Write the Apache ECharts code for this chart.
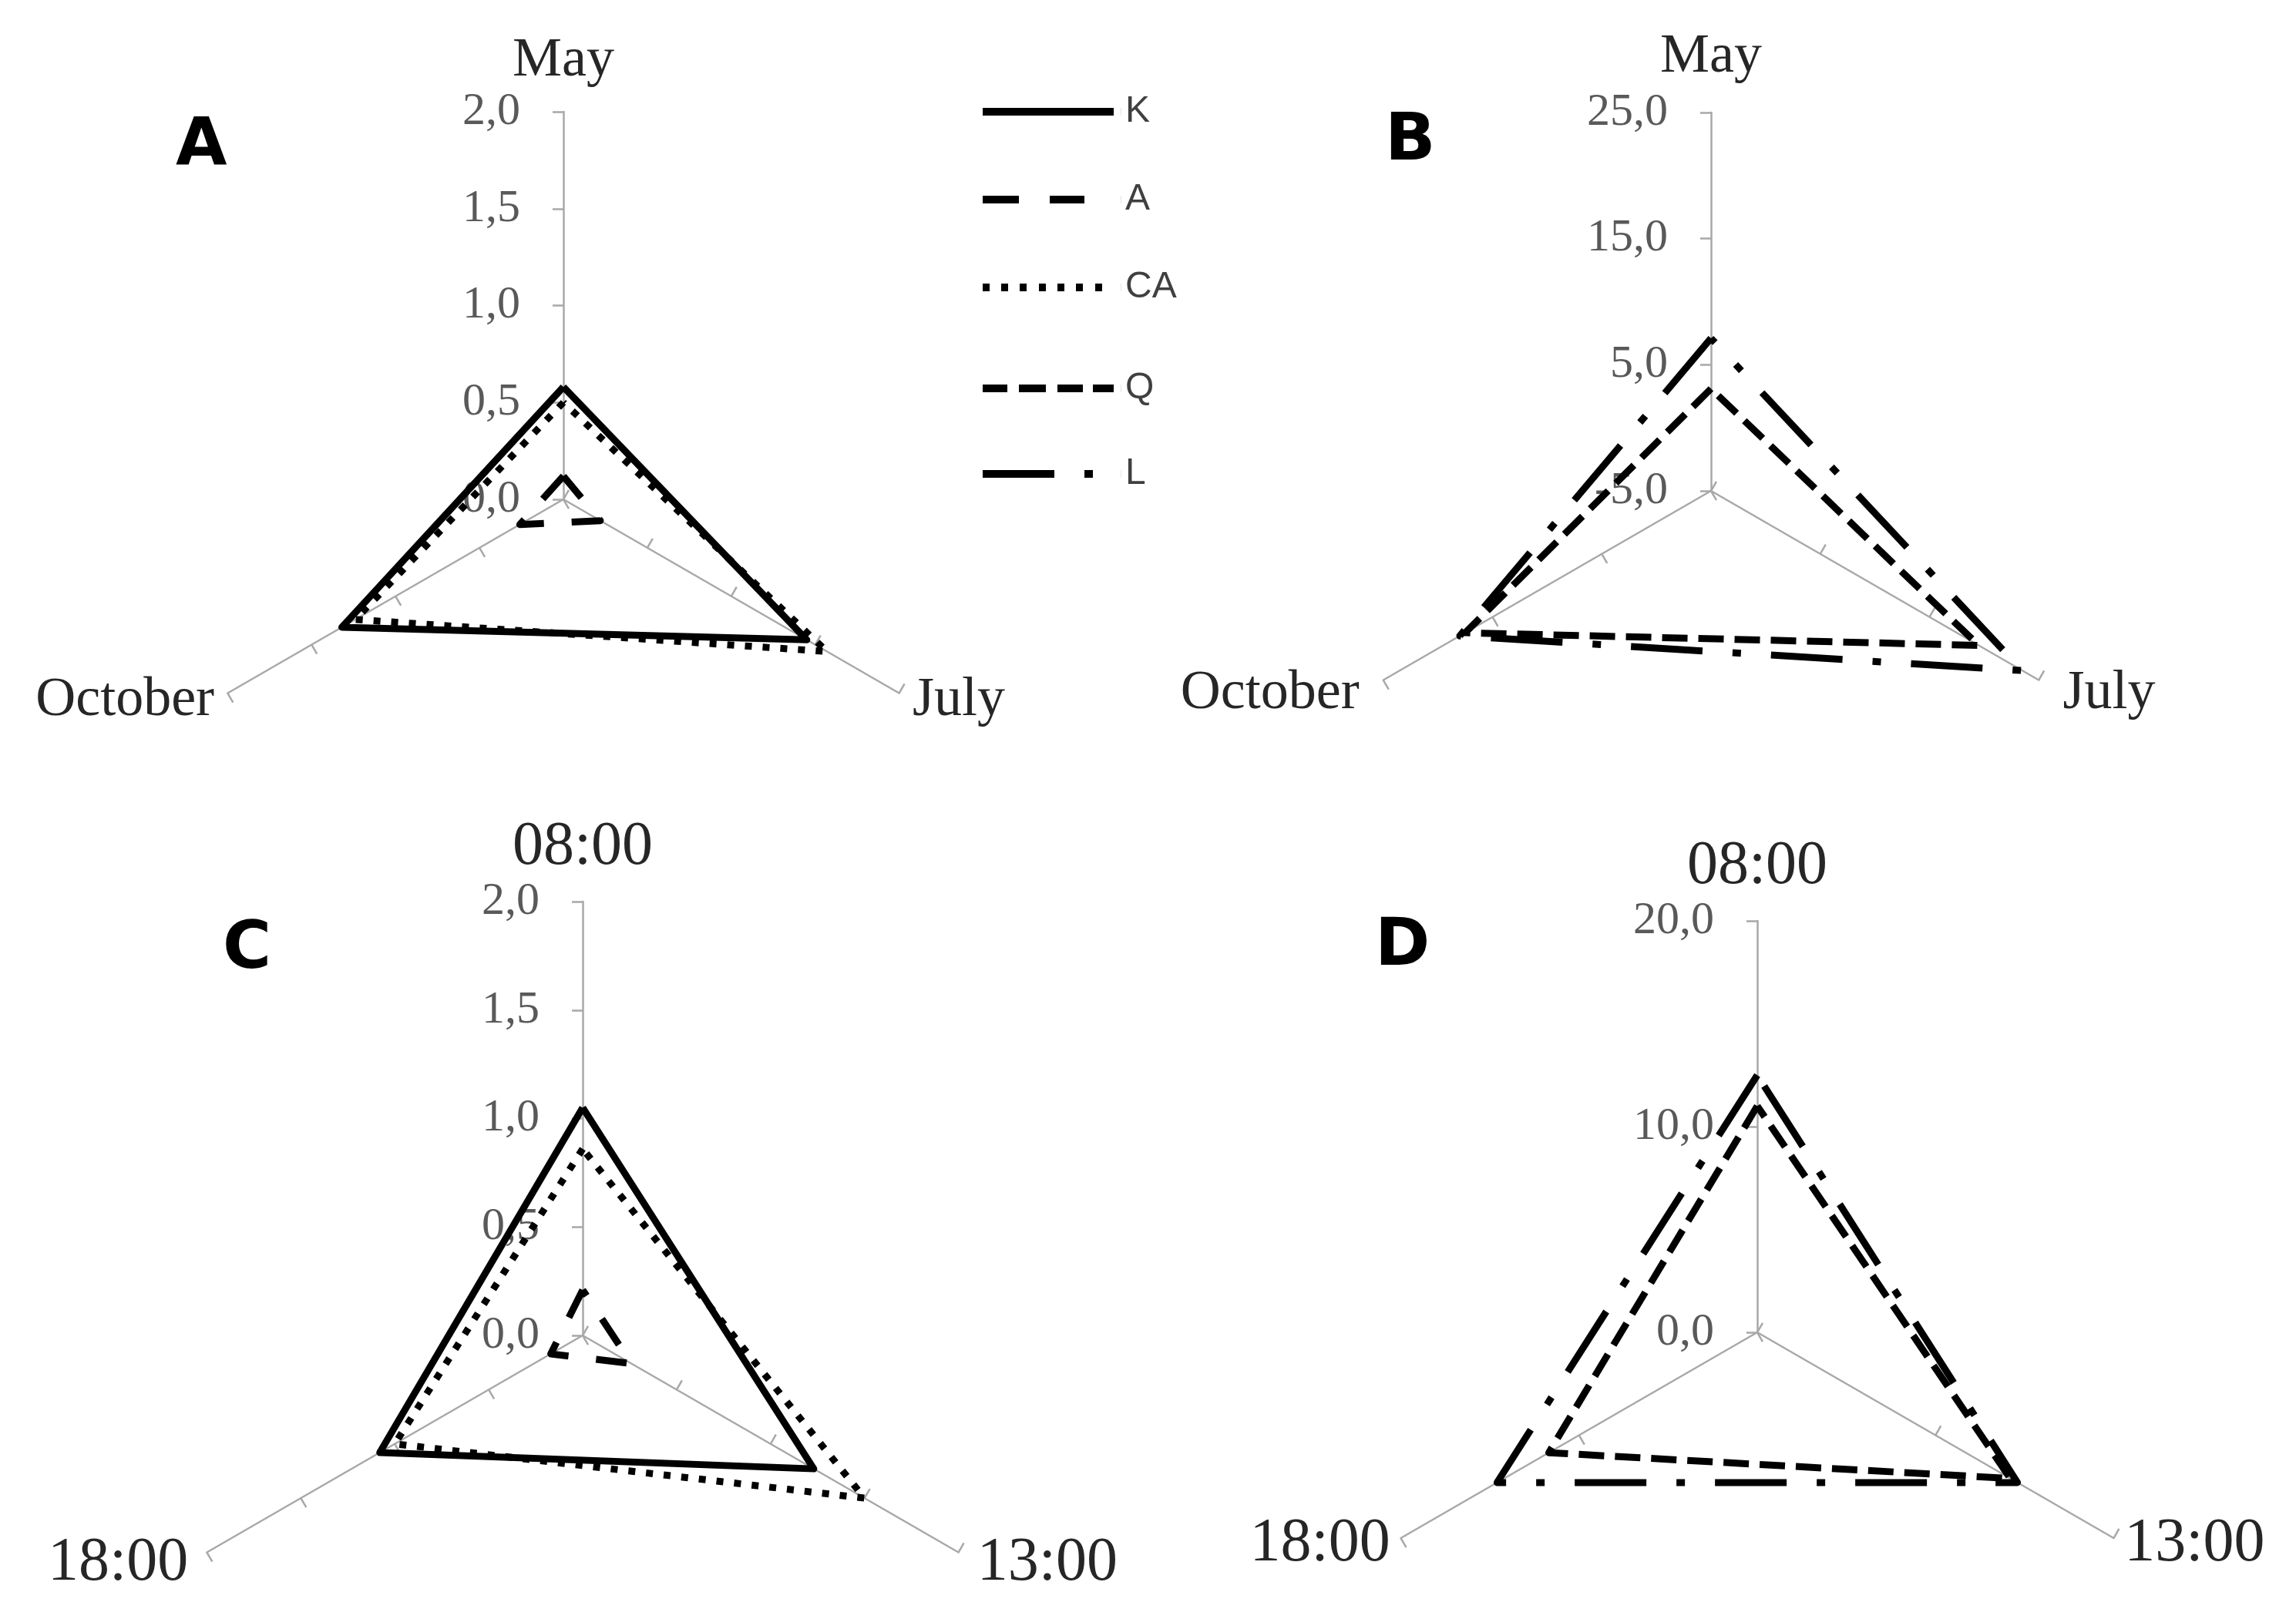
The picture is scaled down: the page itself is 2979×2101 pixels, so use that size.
<!DOCTYPE html>
<html>
<head>
<meta charset="utf-8">
<title>Radar A-D</title>
<script src="https://cdn.jsdelivr.net/npm/echarts@6/dist/echarts.min.js"></script>
<style>
html, body { margin: 0; padding: 0; background: #fff; }
#chart { width: 2979px; height: 2101px; }
</style>
</head>
<body>
<div id="chart"></div>
<script>
// axes, read clockwise from the top
const monthAxes = ['May', 'July', 'October'];
const hourAxes = ['08:00', '13:00', '18:00'];

// values in the same order as the axes
const kMonth = [0.58, 1.45, 1.32];
const aMonth = [0.12, 0.22, 0.26];
const caMonth = [0.50, 1.57, 1.24];
const qMonth = [3.1, 19.5, 17.5];
const lMonth = [7.1, 23.5, 18.0];

const kHour = [1.05, 1.23, 1.08];
const aHour = [0.21, 0.26, 0.17];
const caHour = [0.86, 1.50, 1.00];
const qHour = [11.0, 14.2, 11.7];
const lHour = [12.5, 14.6, 14.6];

const legendNames = ['K', 'A', 'CA', 'Q', 'L'];
const panelLetters = ['A', 'B', 'C', 'D'];

// line dash patterns
const dashes = {
  K: 'solid',
  A: [40, 36],
  CA: [9, 14],
  Q: [33, 14],
  L: [93, 39, 11, 39]
};
// legend icons drawn as 180x10 paths (last tiny rect keeps the box full width)
const tail = ' M179.9,0h0.1v10h-0.1z';
const legendIcons = {
  K: 'path://M0,0h170v10h-170z' + tail,
  A: 'path://M0,0h47v10h-47z M87,0h45v10h-45z' + tail,
  CA: 'path://M0,0h9v10h-9z M24,0h9v10h-9z M48,0h9v10h-9z M73,0h9v10h-9z M97,0h9v10h-9z M121,0h9v10h-9z M146,0h9v10h-9z' + tail,
  Q: 'path://M0,0h32v10h-32z M47,0h35v10h-35z M97,0h33v10h-33z M143,0h27v10h-27z' + tail,
  L: 'path://M0,0h93v10h-93z M132,0h11v10h-11z' + tail
};
const legendRowsY = [144, 258, 372, 503, 614];

const chart = echarts.init(document.getElementById('chart'));

const fmt = v => v.toFixed(1).replace('.', ',');

// ECharts lays indicators out counter-clockwise: top, lower-left, lower-right
const order = [0, 2, 1];

function makeRadar(names, min, max, splitNumber, center, radius, nameGap, nameSize) {
  return {
    center: center,
    radius: radius,
    startAngle: 90,
    shape: 'polygon',
    splitNumber: splitNumber,
    indicator: order.map((i, k) => ({
      name: names[i], min: min, max: max,
      axisLabel: { show: k === 0 }
    })),
    nameGap: nameGap,
    axisName: {
      color: '#262626',
      fontFamily: 'Liberation Serif',
      fontSize: nameSize
    },
    axisLine: { lineStyle: { color: '#a8a8a8', width: 2.5 } },
    axisTick: { show: true, length: 14, lineStyle: { color: '#a8a8a8', width: 2.5 } },
    axisLabel: {
      show: true,
      margin: 56,
      color: '#595959',
      fontFamily: 'Liberation Serif',
      fontSize: 60,
      formatter: fmt
    },
    splitLine: { show: false },
    splitArea: { show: false }
  };
}

function item(name, vals) {
  return {
    name: name,
    value: order.map(i => vals[i]),
    lineStyle: { type: dashes[name], width: 9, color: '#000', cap: 'butt' },
    itemStyle: { color: '#000' }
  };
}

function radarSeries(idx, items) {
  return {
    type: 'radar',
    radarIndex: idx,
    symbol: 'none',
    silent: true,
    data: items
  };
}

const option = {
  backgroundColor: '#fff',
  animation: false,
  title: panelLetters.map((t, i) => ({
    text: t,
    left: [228, 1797, 289, 1784][i],
    top: [148, 142, 1191, 1187][i],
    padding: 0,
    textStyle: { fontFamily: 'DejaVu Sans', fontWeight: 'bold', fontSize: 86, color: '#000' }
  })),
  legend: legendNames.map((n, i) => ({
    data: [{ name: n, icon: legendIcons[n] }],
    left: 1270,
    top: legendRowsY[i] - 28,
    orient: 'vertical',
    itemWidth: 180,
    itemHeight: 10,
    selectedMode: false,
    itemStyle: { color: '#000', borderWidth: 0 },
    textStyle: { fontFamily: 'Liberation Sans', fontSize: 48, color: '#404040' }
  })),
  radar: [
    makeRadar(monthAxes, 0, 2, 4, [731, 648], 503, 20, 72),
    makeRadar(monthAxes, -5, 25, 3, [2220, 637], 491, 36, 72),
    makeRadar(hourAxes, 0, 2, 4, [756, 1733], 563, 28, 80),
    makeRadar(hourAxes, 0, 20, 2, [2280, 1729], 534, 16, 80)
  ],
  series: [
    radarSeries(0, [item('K', kMonth), item('A', aMonth), item('CA', caMonth)]),
    radarSeries(1, [item('Q', qMonth), item('L', lMonth)]),
    radarSeries(2, [item('K', kHour), item('A', aHour), item('CA', caHour)]),
    radarSeries(3, [item('Q', qHour), item('L', lHour)])
  ]
};

chart.setOption(option);
window.addEventListener('resize', () => {
  chart.resize();
});
</script>
</body>
</html>
